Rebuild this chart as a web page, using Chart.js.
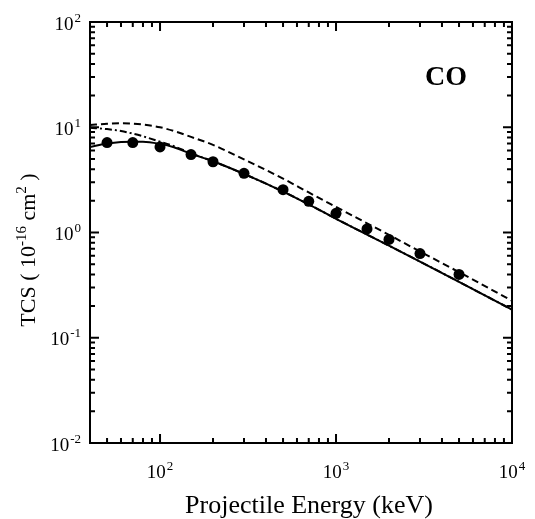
<!DOCTYPE html>
<html>
<head>
<meta charset="utf-8">
<script src="https://cdn.jsdelivr.net/npm/chart.js@4.4.1/dist/chart.umd.min.js"></script>
<style>
  html, body { margin: 0; padding: 0; background: #fff; }
  #wrap { width: 535px; height: 519px; }
</style>
</head>
<body>
<div id="wrap"><canvas id="tcsChart" width="535" height="519"></canvas></div>
<script>
// experiment (filled circles)
var expEnergy = [50, 70, 100, 150, 200, 300, 500, 700, 1000, 1500, 2000, 3000, 5000];
var expTCS = [7.15, 7.15, 6.5, 5.5, 4.7, 3.65, 2.55, 1.98, 1.52, 1.08, 0.86, 0.63, 0.40];

// theory curves
var curveEnergy = [40, 50, 60, 70, 80, 100, 120, 150, 200, 300, 500, 700, 1000, 2000, 3000, 5000, 10000];
var solidTCS = [6.5, 7.0, 7.25, 7.3, 7.3, 6.95, 6.45, 5.6, 4.75, 3.6, 2.45, 1.85, 1.35, 0.75, 0.53, 0.34, 0.185];
var dashDotTCS = [9.9, 9.6, 9.2, 8.7, 8.2, 7.3, 6.6, 5.65, 4.75, 3.6, 2.45, 1.85, 1.35, 0.75, 0.53, 0.34, 0.185];
var dashedTCS = [10.5, 10.8, 10.9, 10.8, 10.6, 10.0, 9.2, 8.1, 6.8, 4.95, 3.25, 2.4, 1.75, 0.95, 0.66, 0.42, 0.225];

// axis ticks
var xMajor = [100, 1000, 10000];
var xTickExp = ['2', '3', '4'];
var yMajor = [0.01, 0.1, 1, 10, 100];
var yTickExp = ['-2', '-1', '0', '1', '2'];

var SERIF = '"Liberation Serif", "DejaVu Serif", serif';

function pts(xs, ys) {
  var out = [];
  for (var i = 0; i < xs.length; i++) out.push({x: xs[i], y: ys[i]});
  return out;
}

// minor ticks 2..9 in every decade inside the range
function minorTicks(min, max) {
  var out = [];
  for (var d = Math.floor(Math.log10(min)); d < Math.ceil(Math.log10(max)); d++) {
    for (var m = 2; m <= 9; m++) {
      var v = m * Math.pow(10, d);
      if (v > min && v < max) out.push(v);
    }
  }
  return out;
}

// base + raised exponent, y is the baseline
function drawPow(ctx, base, exp, x, y, align, size, supSize, rise) {
  ctx.font = size + 'px ' + SERIF;
  var wb = ctx.measureText(base).width;
  ctx.font = supSize + 'px ' + SERIF;
  var we = ctx.measureText(exp).width;
  var total = wb + 1 + we;
  var start = align === 'center' ? x - total / 2 : x - total;
  ctx.textAlign = 'left';
  ctx.textBaseline = 'alphabetic';
  ctx.font = size + 'px ' + SERIF;
  ctx.fillText(base, start, y);
  ctx.font = supSize + 'px ' + SERIF;
  ctx.fillText(exp, start + wb + 1, y - rise);
}

var frame = {
  id: 'frame',
  afterDraw: function(chart) {
    var ctx = chart.ctx;
    var a = chart.chartArea;
    var xs = chart.scales.x, ys = chart.scales.y;
    ctx.save();
    ctx.strokeStyle = '#000';
    ctx.fillStyle = '#000';

    // box
    ctx.lineWidth = 2;
    ctx.strokeRect(a.left, a.top, a.right - a.left, a.bottom - a.top);

    // inward ticks on all four sides
    function xTick(v, len) {
      var px = xs.getPixelForValue(v);
      ctx.beginPath();
      ctx.moveTo(px, a.bottom); ctx.lineTo(px, a.bottom - len);
      ctx.moveTo(px, a.top); ctx.lineTo(px, a.top + len);
      ctx.stroke();
    }
    function yTick(v, len) {
      var py = ys.getPixelForValue(v);
      ctx.beginPath();
      ctx.moveTo(a.left, py); ctx.lineTo(a.left + len, py);
      ctx.moveTo(a.right, py); ctx.lineTo(a.right - len, py);
      ctx.stroke();
    }
    ctx.lineWidth = 2;
    xMajor.forEach(function(v) { xTick(v, 9); });
    yMajor.forEach(function(v) { yTick(v, 9); });
    minorTicks(xs.min, xs.max).forEach(function(v) { xTick(v, 5); });
    minorTicks(ys.min, ys.max).forEach(function(v) { yTick(v, 5); });

    // tick labels
    xMajor.forEach(function(v, i) {
      drawPow(ctx, '10', xTickExp[i], xs.getPixelForValue(v), a.bottom + 35, 'center', 19, 13, 8);
    });
    yMajor.forEach(function(v, i) {
      drawPow(ctx, '10', yTickExp[i], a.left - 9, ys.getPixelForValue(v) + 7.5, 'right', 19, 13, 8);
    });

    // x title
    ctx.font = '26px ' + SERIF;
    ctx.textAlign = 'center';
    ctx.textBaseline = 'alphabetic';
    ctx.fillText('Projectile Energy (keV)', 309, 513);

    // y title, rotated, with superscripts
    var parts = [
      ['TCS ( 10', 22, 0], ['-16', 15, 9], [' cm', 22, 0], ['2', 15, 9], [' )', 22, 0]
    ];
    var total = 0;
    parts.forEach(function(p) { ctx.font = p[1] + 'px ' + SERIF; p.push(ctx.measureText(p[0]).width); total += p[3]; });
    ctx.translate(35, 250);
    ctx.rotate(-Math.PI / 2);
    ctx.textAlign = 'left';
    var cx = -total / 2;
    parts.forEach(function(p) {
      ctx.font = p[1] + 'px ' + SERIF;
      ctx.fillText(p[0], cx, -p[2]);
      cx += p[3];
    });
    ctx.setTransform(1, 0, 0, 1, 0, 0);

    // gas label
    ctx.font = 'bold 28px ' + SERIF;
    ctx.textAlign = 'center';
    ctx.fillText('CO', 446, 85);
    ctx.restore();
  }
};

var config = {
  type: 'line',
  data: {
    datasets: [
      {
        label: 'dashed',
        data: pts(curveEnergy, dashedTCS),
        borderColor: '#000',
        borderWidth: 2,
        borderDash: [7, 4],
        pointRadius: 0,
        cubicInterpolationMode: 'monotone',
        fill: false
      },
      {
        label: 'dash-dot',
        data: pts(curveEnergy, dashDotTCS),
        borderColor: '#000',
        borderWidth: 2,
        borderDash: [7, 3, 2, 3],
        pointRadius: 0,
        cubicInterpolationMode: 'monotone',
        fill: false
      },
      {
        label: 'solid',
        data: pts(curveEnergy, solidTCS),
        borderColor: '#000',
        borderWidth: 2,
        pointRadius: 0,
        cubicInterpolationMode: 'monotone',
        fill: false
      },
      {
        label: 'experiment',
        data: pts(expEnergy, expTCS),
        showLine: false,
        pointRadius: 5.5,
        pointBackgroundColor: '#000',
        pointBorderColor: '#000',
        pointBorderWidth: 0
      }
    ]
  },
  options: {
    responsive: false,
    animation: false,
    layout: { padding: { left: 90, right: 23, top: 22, bottom: 76 } },
    plugins: { legend: { display: false }, tooltip: { enabled: false } },
    scales: {
      x: {
        type: 'logarithmic',
        min: 40,
        max: 10000,
        grid: { display: false, drawTicks: false },
        border: { display: false },
        ticks: { display: false }
      },
      y: {
        type: 'logarithmic',
        min: 0.01,
        max: 100,
        grid: { display: false, drawTicks: false },
        border: { display: false },
        ticks: { display: false }
      }
    }
  },
  plugins: [frame]
};

var tcsChart = new Chart(document.getElementById('tcsChart'), config);
</script>
</body>
</html>
